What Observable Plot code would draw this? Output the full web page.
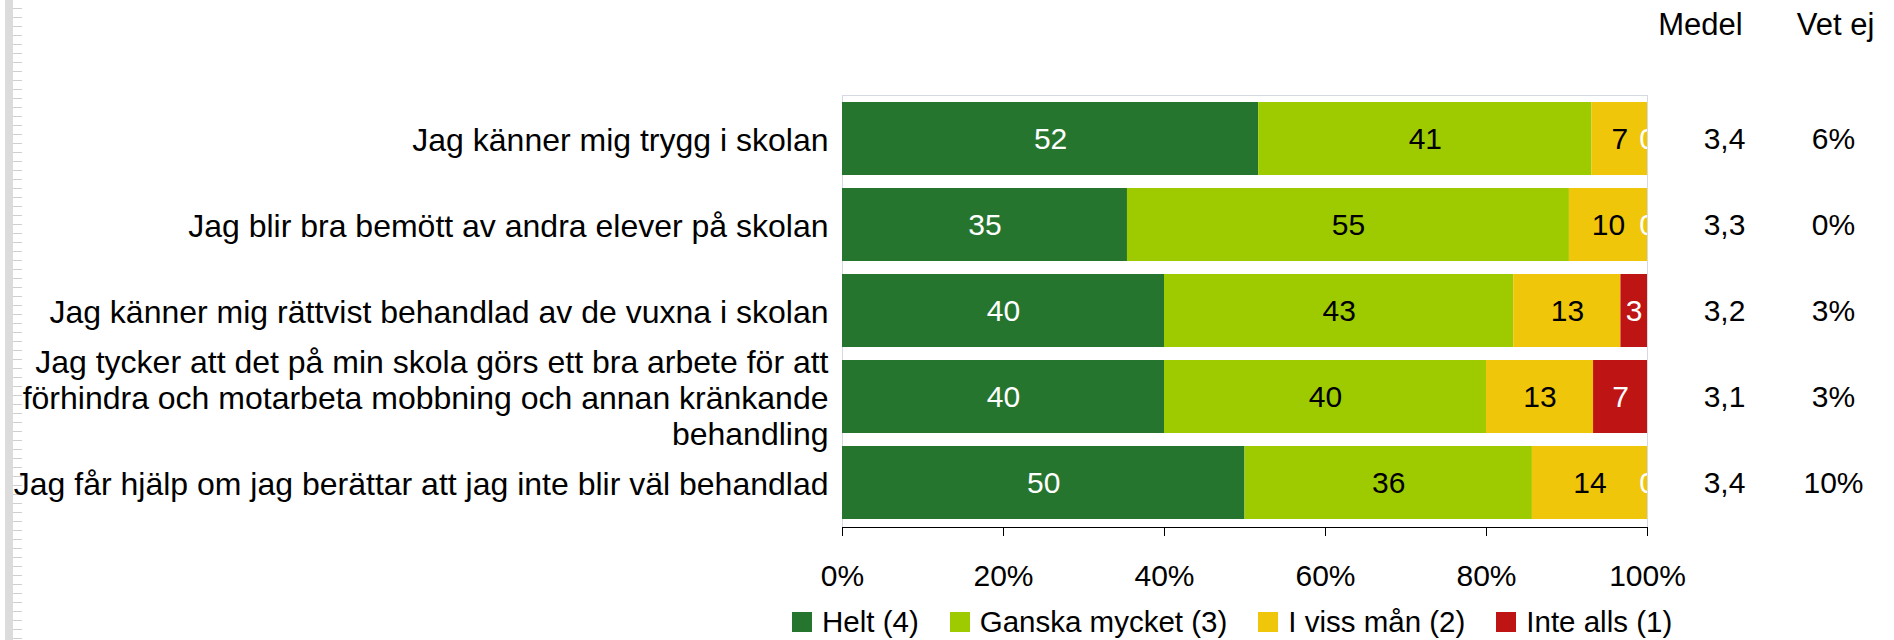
<!DOCTYPE html>
<html>
<head>
<meta charset="utf-8">
<script src="https://cdn.jsdelivr.net/npm/d3@7"></script>
<script src="https://cdn.jsdelivr.net/npm/@observablehq/plot@0.6"></script>
<style>
  html, body { margin: 0; padding: 0; background: #fff; }
  body { width: 1894px; height: 640px; position: relative; overflow: hidden; font-family: "Liberation Sans", Arial, sans-serif; color: #000; }
  #ruler { position: absolute; left: 5px; top: 0; width: 8px; height: 640px; background: #dcdcdc; z-index: 0; }
  #ruler2 { position: absolute; left: 13px; top: 0; width: 9px; height: 640px; z-index: 0;
    background: repeating-linear-gradient(to bottom, #fff 0px, #fff 8px, #cfcfcf 8px, #cfcfcf 9px); }
  #chart { position: relative; z-index: 1; }
  #legend { position: absolute; left: 792px; top: 602px; height: 40px; z-index: 1; }
  #legend .lg-swatches { font-size: 29.5px; font-family: "Liberation Sans", Arial, sans-serif; color: #000; margin: 0; min-height: 40px; }
  div#legend .lg-swatch { margin-right: 31px; }
  div#legend .lg-swatch > svg { margin-right: 10px; }
</style>
</head>
<body>
<div id="ruler"></div><div id="ruler2"></div>
<div id="chart"></div>
<div id="legend"></div>
<script>
const questions = [
  "Jag känner mig trygg i skolan",
  "Jag blir bra bemött av andra elever på skolan",
  "Jag känner mig rättvist behandlad av de vuxna i skolan",
  "Jag tycker att det på min skola görs ett bra arbete för att\nförhindra och motarbeta mobbning och annan kränkande\nbehandling",
  "Jag får hjälp om jag berättar att jag inte blir väl behandlad"
];
const categories = ["Helt (4)", "Ganska mycket (3)", "I viss mån (2)", "Inte alls (1)"];
const colors = ["#26752f", "#9ecb00", "#efc60a", "#be1414"];
const helt     = [51.7, 35.4, 40.0, 40.0, 50.0];
const ganska   = [41.4, 54.9, 43.4, 40.0, 35.7];
const ivissMan = [6.9, 9.7, 13.3, 13.3, 14.3];
const inteAlls = [0, 0, 3.3, 6.7, 0];
const medel = [3.4, 3.3, 3.2, 3.1, 3.4];
const vetEj = [6, 0, 3, 3, 10];
const xTicks = [0, 20, 40, 60, 80, 100];

const series = [helt, ganska, ivissMan, inteAlls];
const data = [];
questions.forEach((q, i) => {
  categories.forEach((c, j) => data.push({q, cat: c, value: series[j][i]}));
});
const rows = questions.map((q, i) => ({q, medel: medel[i], vetEj: vetEj[i]}));

const fmt = d3.format(".0f");
const whiteCats = ["Helt (4)", "Inte alls (1)"];
const font = "'Liberation Sans', Arial, sans-serif";

const stackOpts = {x: "value", y: "q", z: "cat", order: categories};

const chart = Plot.plot({
  width: 1894,
  height: 600,
  marginLeft: 842,
  marginRight: 247,
  marginTop: 95,
  marginBottom: 73,
  style: {fontFamily: font, fontSize: "30px", color: "#000", background: "transparent"},
  x: {domain: [0, 100]},
  y: {domain: questions, paddingInner: 0.15, paddingOuter: 0.06},
  color: {domain: categories, range: colors},
  marks: [
    Plot.frame({stroke: "#d5d9e2"}),
    Plot.barX(data, Plot.stackX({...stackOpts, fill: "cat"})),
    Plot.text(data, Plot.stackX({...stackOpts,
      text: d => whiteCats.includes(d.cat) ? fmt(d.value) : null,
      fill: "white", fontSize: 30, clip: true})),
    Plot.text(data, Plot.stackX({...stackOpts,
      text: d => whiteCats.includes(d.cat) ? null : fmt(d.value),
      fill: "black", fontSize: 30, clip: true})),
    Plot.frame({anchor: "bottom", stroke: "black"}),
    Plot.axisX({ticks: xTicks, tickFormat: d => d + "%", tickSize: 9, tickPadding: 28, fontSize: 30, label: null, stroke: "black"}),
    Plot.axisY({tickSize: 0, tickPadding: 14, fontSize: 32, lineHeight: 1.125, label: null, textOverflow: null}),
    Plot.text(rows, {y: "q", text: d => String(d.medel).replace(".", ","), frameAnchor: "right", textAnchor: "middle", dx: 77, fontSize: 30}),
    Plot.text(rows, {y: "q", text: d => d.vetEj + "%", frameAnchor: "right", textAnchor: "middle", dx: 186, fontSize: 30}),
    Plot.text(["Medel"], {frameAnchor: "top-right", textAnchor: "middle", lineAnchor: "middle", dx: 53, dy: -70, fontSize: 31}),
    Plot.text(["Vet ej"], {frameAnchor: "top-right", textAnchor: "middle", lineAnchor: "middle", dx: 188, dy: -70, fontSize: 31})
  ]
});
document.getElementById("chart").appendChild(chart);

const legend = Plot.legend({
  color: {domain: categories, range: colors},
  legend: "swatches",
  swatchSize: 20,
  className: "lg"
});
document.getElementById("legend").appendChild(legend);
</script>
</body>
</html>
